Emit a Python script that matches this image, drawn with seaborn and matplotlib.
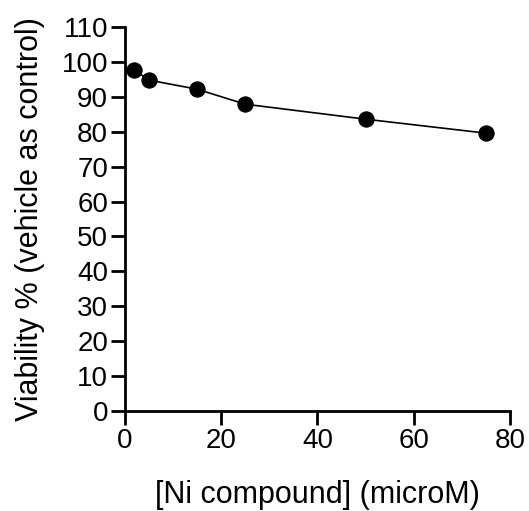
import pandas as pd
import matplotlib
matplotlib.use("Agg")
import matplotlib.pyplot as plt
import seaborn as sns

conc = [2, 5, 15, 25, 50, 75]
viability = [97.7, 94.8, 92.2, 87.9, 83.6, 79.6]

sns.set_style("ticks")
plt.rcParams['font.family'] = ['Liberation Sans', 'DejaVu Sans']

df = pd.DataFrame({'conc': conc, 'viability': viability})

fig = plt.figure(figsize=(5.29, 5.11), dpi=100)
ax = fig.add_axes([0.236, 0.196, 0.728, 0.751])
sns.lineplot(data=df, x='conc', y='viability', ax=ax, color='black',
             linewidth=1.2, marker='o', markersize=11, markeredgecolor='black',
             clip_on=False)

ax.set_xlim(0, 80)
ax.set_ylim(0, 110)
ax.set_xticks(range(0, 81, 20))
ax.set_yticks(range(0, 111, 10))
ax.tick_params(axis='both', labelsize=20, length=10, width=2, color='black',
               labelcolor='black', pad=2)
for s in ['left', 'bottom']:
    ax.spines[s].set_linewidth(2)
    ax.spines[s].set_color('black')
sns.despine(ax=ax)
ax.set_xlabel('[Ni compound] (microM)', fontsize=22, labelpad=19, color='black')
ax.set_ylabel('Viability % (vehicle as control)', fontsize=22, labelpad=12, color='black')

fig.savefig('out.png', dpi=100)
